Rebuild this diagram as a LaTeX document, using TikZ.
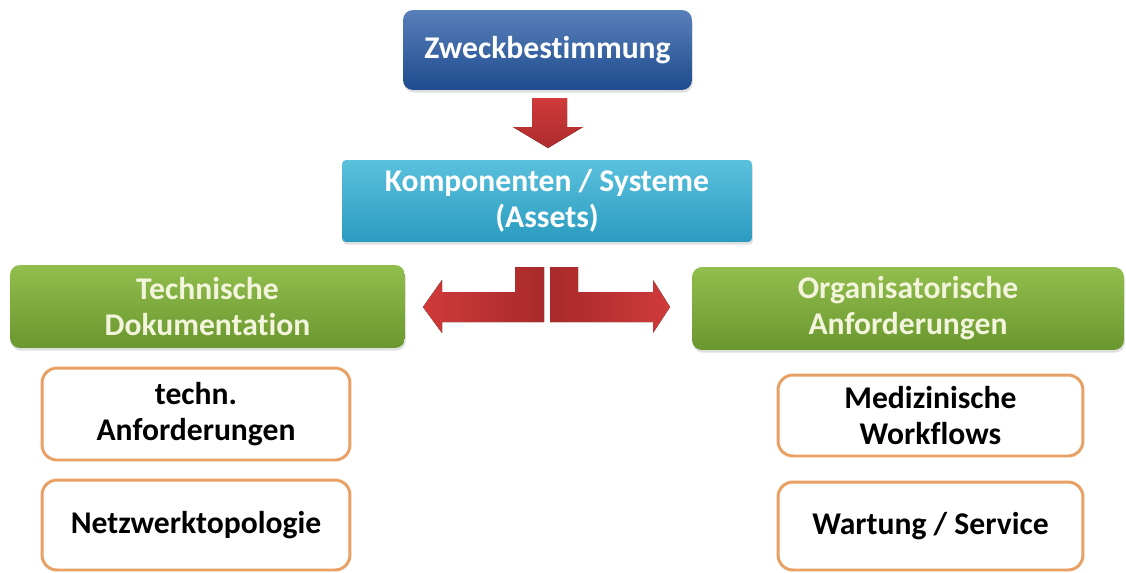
\documentclass[tikz,border=0pt]{standalone}
\usepackage{fontspec}
\setsansfont[Ligatures=NoCommon]{Carlito}
\usepackage{xcolor}
\usetikzlibrary{positioning,shadows}

\definecolor{zweckblue}{HTML}{2F5FA8}
\definecolor{zweckdark}{HTML}{1E4C8E}
\definecolor{kompcyan}{HTML}{3DB6D6}
\definecolor{kompdark}{HTML}{2A9BC0}
\definecolor{gruenhell}{HTML}{92BE4E}
\definecolor{gruendunkel}{HTML}{6A972E}
\definecolor{gruentext}{HTML}{F2F4DC}
\definecolor{pfeilrot}{HTML}{D03A3A}
\definecolor{pfeildunkel}{HTML}{A82A2A}
\definecolor{rahmenorange}{HTML}{E9A064}

\tikzset{
  boxtext/.style={font=\sffamily\bfseries\fontsize{18}{20.5}\selectfont, align=center},
  bluebox/.style={boxtext, rectangle, rounded corners=0.2cm, text=white,
    top color=zweckblue!80!white, bottom color=zweckdark,
    drop shadow={opacity=0.25, shadow xshift=0.5pt, shadow yshift=-1.5pt}},
  cyanbox/.style={boxtext, rectangle, rounded corners=0.08cm, text=white,
    top color=kompcyan!85!white, bottom color=kompdark,
    drop shadow={opacity=0.25, shadow xshift=0.5pt, shadow yshift=-1.5pt}},
  greenbox/.style={boxtext, rectangle, rounded corners=0.2cm, text=gruentext,
    top color=gruenhell, bottom color=gruendunkel,
    drop shadow={opacity=0.25, shadow xshift=0.5pt, shadow yshift=-1.5pt}},
  orangebox/.style={boxtext, rectangle, rounded corners=0.3cm, text=black,
    draw=rahmenorange, line width=1.7pt, fill=white},
  blockarrow/.style={left color=pfeilrot, right color=pfeildunkel}
}

\begin{document}
\begin{tikzpicture}[x=0.02cm,y=-0.02cm]
\useasboundingbox (0,0) rectangle (1126,572);
% top of the hierarchy
\node[bluebox, minimum width=5.78cm, minimum height=1.6cm] (zweck) at (547.5,50) {Zweckbestimmung};
\node[cyanbox, minimum width=8.2cm, minimum height=1.64cm] (komp) at (547,201) {Komponenten / Systeme\\(Assets)};
% two branches
\node[greenbox, minimum width=7.9cm, minimum height=1.66cm] (tech) at (207.5,306.5) {Technische\\Dokumentation};
\node[greenbox, minimum width=8.64cm, minimum height=1.66cm] (orga) at (908,308.5) {Organisatorische\\Anforderungen};
% left items
\node[orangebox, minimum width=6.16cm, minimum height=1.84cm] (anf) at (196,414) {techn.\\Anforderungen};
\node[orangebox, minimum width=6.16cm, minimum height=1.8cm] (netz) at (196,525) {Netzwerktopologie};
% right items
\node[orangebox, minimum width=6.1cm, minimum height=1.62cm] (med) at (930.5,415.5) {Medizinische\\Workflows};
\node[orangebox, minimum width=6.1cm, minimum height=1.76cm] (wart) at (930.5,526) {Wartung / Service};
% block arrows
\fill[top color=pfeilrot, bottom color=pfeildunkel!90!pfeilrot]
  (532,98) -- (567,98) -- (567,127) -- (583,127) -- (548,148) -- (513,127) -- (532,127) -- cycle;
\fill[blockarrow]
  (544,267) -- (544,322) -- (442,322) -- (442,333) -- (423,307) -- (442,280)
  -- (442,292) -- (515,292) -- (515,267) -- cycle;
\fill[left color=pfeildunkel, right color=pfeilrot]
  (550,267) -- (578,267) -- (578,292) -- (653,292) -- (653,280) -- (670,307)
  -- (653,333) -- (653,322) -- (550,322) -- cycle;
\end{tikzpicture}
\end{document}
